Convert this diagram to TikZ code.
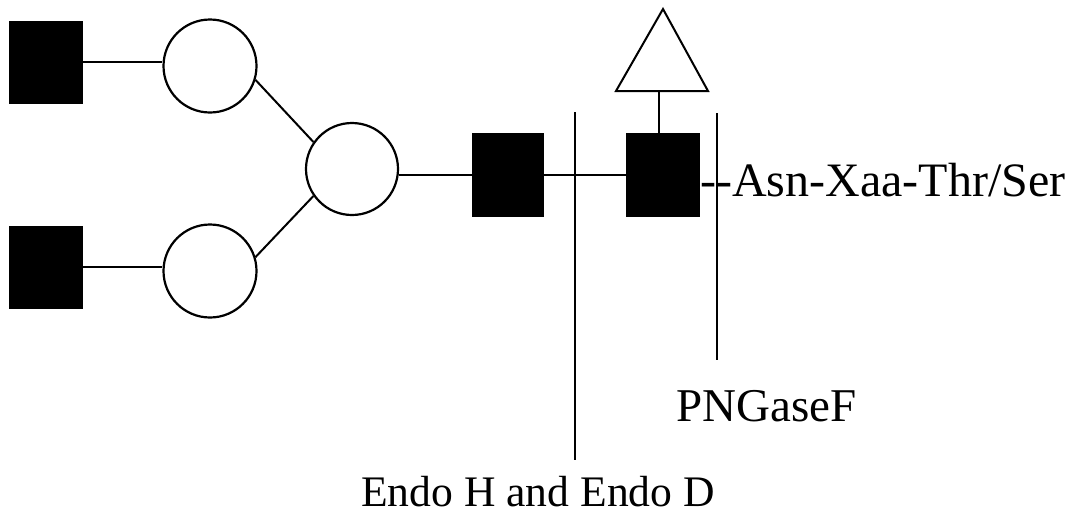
\documentclass[tikz,border=0pt]{standalone}
\usepackage{fontspec}
\setmainfont{Liberation Serif}
\begin{document}
\begin{tikzpicture}[x=1pt,y=-1pt,
  blk/.style={fill=black,draw=none,minimum width=74pt,minimum height=83pt,inner sep=0pt},
  ring/.style={circle,draw=black,line width=2.2pt,minimum size=93pt,inner sep=0pt,fill=white},
  bond/.style={line width=2pt},
  cut/.style={line width=2.2pt},
  lbl/.style={inner sep=0pt,font=\fontsize{46}{46}\selectfont}]
\useasboundingbox (0,0) rectangle (1076,523);
\node[blk] (sq1) at (46,62) {};
\node[blk] (sq2) at (46,267) {};
\node[ring] (c1) at (210,66) {};
\node[ring] (c2) at (210,271) {};
\node[ring,minimum size=92pt] (c3) at (352,169) {};
\node[blk,minimum width=72pt,minimum height=84pt] (sq3) at (508,175) {};
\node[blk,minimum width=74pt,minimum height=84pt] (sq4) at (663,175) {};
\draw[bond] (sq1.east) -- (sq1.east -| c1.west);
\draw[bond] (sq2.east) -- (sq2.east -| c2.west);
\draw[bond] (c1.-17) -- (c3.145);
\draw[bond] (c2.17) -- (c3.-145);
\draw[bond] (sq3.west -| c3.east) -- (sq3.west);
\draw[bond] (sq3.east) -- (sq4.west);
\coordinate (tb) at (659,91);
\draw[line width=2pt,line join=miter] (663,9) -- (708,91) -- (616,91) -- cycle;
\draw[bond] (sq4.north -| tb) -- (tb);
\coordinate (v1t) at (575,112);
\coordinate (v1b) at (575,460);
\coordinate (v2t) at (717,113);
\coordinate (v2b) at (717,360);
\draw[cut] (v1t) -- (v1b);
\node[lbl,anchor=base west] (seq) at (700,196) {\fontsize{48}{48}\selectfont -{}-Asn-Xaa-Thr/Ser};
\draw[cut] (v2t) -- (v2b);
\node[lbl,anchor=base west] (png) at (676,421) {\fontsize{47}{47}\selectfont PNGaseF};
\node[lbl,anchor=base west] (endo) at (361,506) {\fontsize{43.6}{44}\selectfont Endo H and Endo D};
\end{tikzpicture}
\end{document}
